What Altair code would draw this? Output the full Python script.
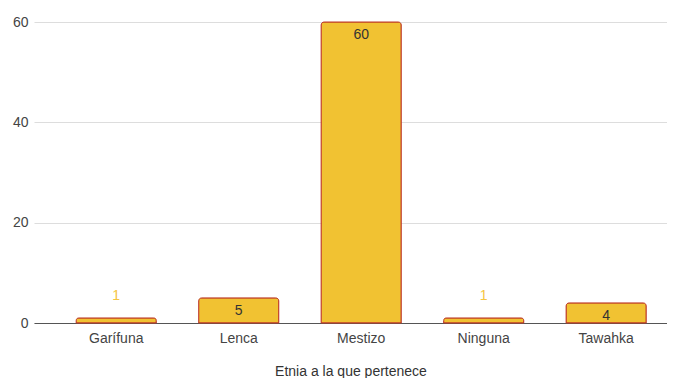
import altair as alt
import pandas as pd

categorias = ["Garífuna", "Lenca", "Mestizo", "Ninguna", "Tawahka"]
valores = [1, 5, 60, 1, 4]

df = pd.DataFrame({"Etnia": categorias, "Cantidad": valores})

FONT = "Liberation Sans"

x = alt.X(
    "Etnia:N",
    sort=categorias,
    title="Etnia a la que pertenece",
    scale=alt.Scale(paddingInner=0.346, paddingOuter=0.257, align=0.67),
    axis=alt.Axis(
        labelAngle=0, ticks=False, domainColor="#555555", labelColor="#444444",
        labelFontSize=14, labelPadding=8, titleFontSize=14, titleFontWeight="normal",
        titleColor="#333333", titlePadding=19, labelFont=FONT, titleFont=FONT,
    ),
)
y = alt.Y(
    "Cantidad:Q",
    title=None,
    scale=alt.Scale(domain=[0, 60], nice=False),
    axis=alt.Axis(
        values=[0, 20, 40, 60], ticks=False, domain=False, gridColor="#dddddd",
        labelColor="#444444", labelFontSize=14, labelPadding=6, labelFont=FONT,
    ),
)

base = alt.Chart(df).encode(x=x, y=y)

bars = base.mark_bar(
    color="#F1C232", stroke="#BE3A26", strokeWidth=1,
    cornerRadiusTopLeft=3, cornerRadiusTopRight=3,
)

inside = base.transform_filter(alt.datum.Cantidad >= 4).mark_text(
    baseline="top", dy=6, fontSize=14, color="#333333", font=FONT
).encode(text="Cantidad:Q")

above = base.transform_filter(alt.datum.Cantidad < 4).mark_text(
    baseline="bottom", dy=-15, fontSize=14, color="#F5C542", font=FONT
).encode(text="Cantidad:Q")

chart = (
    alt.layer(bars, inside, above)
    .properties(
        width=659, height=370,
        autosize=alt.AutoSizeParams(type="fit", contains="padding"),
        padding={"left": 4, "top": 7, "right": 0, "bottom": 0},
    )
    .configure_view(stroke=None)
)

chart.save("out.html", embed_options={"renderer": "svg", "actions": False})
